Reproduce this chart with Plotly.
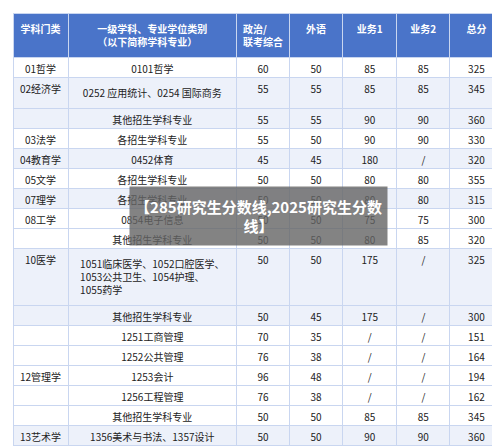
import plotly.graph_objects as go

# DATA

headers = ["<b>学科门类</b>", "<b>一级学科、专业学位类别<br>（以下简称学科专业）</b>", "<b>政治/<br>联考综合</b>",
           "<b>外语</b>", "<b>业务1</b>", "<b>业务2</b>", "<b>总分</b>"]
groups = ["01哲学", "02经济学", "", "03法学", "04教育学", "05文学", "07理学", "08工学", "",
          "10医学", "", "", "", "12管理学", "", "", "13艺术学"]
majors = ["0101哲学", "0252&nbsp;应用统计、0254&nbsp;国际商务", "其他招生学科专业", "各招生学科专业", "0452体育",
          "各招生学科专业", "各招生学科专业", "0854电子信息", "其他招生学科专业",
          "1051临床医学、1052口腔医学、<br>1053公共卫生、1054护理、<br>1055药学", "其他招生学科专业",
          "1251工商管理", "1252公共管理", "1253会计", "1256工程管理", "其他招生学科专业",
          "1356美术与书法、1357设计"]
politics = [60, 55, 55, 55, 45, 50, 50, 50, 50, 50, 50, 70, 76, 96, 76, 50, 50]
language = [50, 55, 55, 50, 45, 50, 50, 50, 50, 50, 45, 35, 38, 48, 38, 50, 50]
subject1 = ["85", "85", "90", "90", "180", "80", "80", "75", "80", "175", "175", "/", "/", "/", "/", "85", "90"]
subject2 = ["85", "85", "90", "90", "/", "80", "80", "75", "85", "/", "/", "/", "/", "/", "/", "85", "90"]
totals = [325, 345, 360, 330, 320, 355, 315, 300, 320, 325, 300, 151, 164, 194, 162, 345, 360]
shade = [0, 1, 1, 0, 1, 0, 1, 0, 0, 1, 1, 0, 0, 0, 0, 0, 1]

fills = ["#edf1fa" if s else "white" for s in shade]

fig = go.Figure(go.Table(
    columnwidth=[55, 168, 53, 53, 54, 53, 53],
    header=dict(values=headers, fill_color="#4a74c9", line_color="#c9d6f0",
                font=dict(color="white", size=10, family="Noto Sans CJK SC"),
                align="center", height=34),
    cells=dict(values=[groups, majors, politics, language, subject1, subject2, totals],
               fill_color=[fills] * 7, line_color="#c9d6f0",
               font=dict(color="#222", size=10, family="Noto Sans CJK SC"),
               align="center", height=20),
))

fig.add_annotation(x=0.5, y=0.535, xref="paper", yref="paper", showarrow=False,
                   text="<b>【285研究生分数线,2025研究生分数<br>线】</b>",
                   font=dict(size=15, color="white", family="Noto Sans CJK SC"),
                   bgcolor="rgba(100,100,100,0.8)", width=255, height=56)

fig.update_layout(width=500, height=446, margin=dict(l=5, r=5, t=5, b=5),
                  paper_bgcolor="white")
fig.write_html("out.html")
